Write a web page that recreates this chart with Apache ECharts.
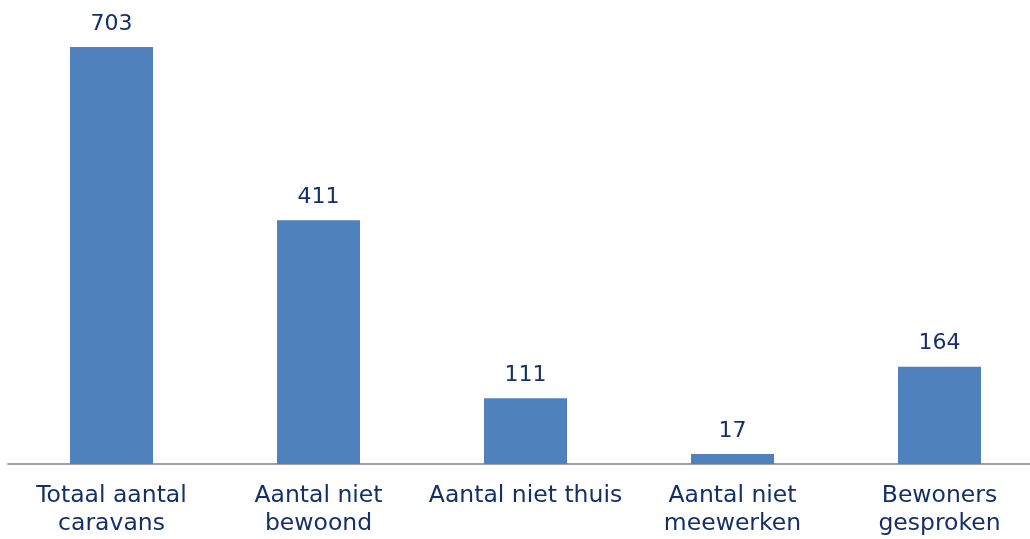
<!DOCTYPE html>
<html>
<head>
<meta charset="utf-8">
<script src="https://cdn.jsdelivr.net/npm/echarts@6/dist/echarts.min.js"></script>
<style>html,body{margin:0;padding:0;background:#fff}#c{width:1030px;height:539px}</style>
</head>
<body>
<div id="c"></div>
<script>
const categories = ['Totaal aantal\ncaravans', 'Aantal niet\nbewoond', 'Aantal niet thuis', 'Aantal niet\nmeewerken', 'Bewoners\ngesproken'];
const values = [703, 411, 111, 17, 164];

const chart = echarts.init(document.getElementById('c'));
chart.setOption({
  animation: false,
  grid: { left: 8, width: 1035, top: 47, bottom: 75, containLabel: false, outerBoundsMode: 'none' },
  xAxis: {
    type: 'category',
    data: categories,
    axisTick: { show: false },
    axisLine: { lineStyle: { color: '#a0a0a0', width: 2 } },
    axisLabel: {
      interval: 0,
      margin: 18,
      color: '#14306a',
      fontFamily: 'DejaVu Sans',
      fontSize: 23.5,
      lineHeight: 28
    }
  },
  yAxis: { type: 'value', min: 0, max: 703, show: false, splitLine: { show: false } },
  series: [{
    type: 'bar',
    data: values,
    barWidth: 83,
    itemStyle: { color: '#4f81bd' },
    label: {
      show: true,
      position: 'top',
      distance: 12,
      color: '#14306a',
      fontFamily: 'DejaVu Sans',
      fontSize: 22
    }
  }]
});
</script>
</body>
</html>
